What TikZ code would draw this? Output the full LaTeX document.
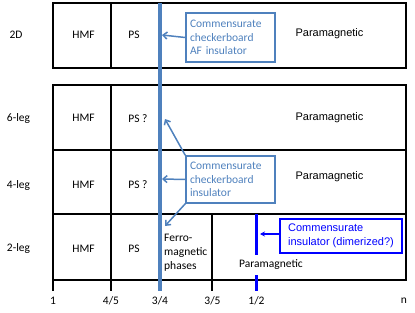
\documentclass[tikz,border=0pt]{standalone}
\usepackage{fontspec}
\setmainfont{Carlito}
\newfontfamily\arialf{Liberation Sans}
\usetikzlibrary{arrows.meta}
\definecolor{steel}{RGB}{79,129,189}
\definecolor{pureblue}{RGB}{0,0,255}
\tikzset{
  grid/.style={line width=1.8pt, black},
  lbl/.style={font=\fontsize{11.5}{13.5}\selectfont, inner sep=0pt},
  para/.style={font=\arialf\fontsize{11}{13.5}\selectfont, inner sep=0pt},
  bluebox/.style={draw=steel, line width=1.5pt, text=steel, align=left,
    font=\fontsize{11.5}{13.5}\selectfont, minimum width=89pt, text width=81pt, inner xsep=4pt},
  blueline/.style={steel, line width=4pt},
  bluearrow/.style={steel, line width=1.5pt, -{Straight Barb[length=4pt,width=7pt]}},
  dimbox/.style={draw=pureblue, line width=1.5pt, text=pureblue, align=left,
    font=\arialf\fontsize{11}{14}\selectfont, minimum width=122pt, minimum height=34pt, inner xsep=5pt},
  dimarrow/.style={pureblue, line width=1.5pt, -{Stealth[length=5pt,width=5pt]}},
}
\begin{document}
\begin{tikzpicture}[x=1pt,y=-1pt]
\useasboundingbox (0,0) rectangle (415,313);
% 2D block
\draw[grid] (53,3) rectangle (406,68);
\draw[grid] (111,3) -- (111,68);
% lower block
\draw[grid] (53,85) rectangle (406,280);
\draw[grid] (53,150) -- (406,150);
\draw[grid] (53,214) -- (406,214);
\draw[grid] (53,85) -- (53,291);
\draw[grid] (111,85) -- (111,291);
\draw[grid] (212,214) -- (212,291);
% blue lines
\draw[blueline] (160,3) -- (160,291);
\draw[pureblue, line width=3pt] (256,214) -- (256,255);
\draw[pureblue, line width=3pt] (256,275) -- (256,291);
% row labels
\node[lbl] (r2d) at (16,35) {2D};
\node[lbl] (r6) at (18.5,118) {6-leg};
\node[lbl] (r4) at (18.5,185) {4-leg};
\node[lbl] (r2) at (18.5,248) {2-leg};
% HMF / PS
\node[lbl] (h2d) at (83.5,35) {HMF};
\node[lbl] (h6) at (83.5,118) {HMF};
\node[lbl] (h4) at (83.5,185) {HMF};
\node[lbl] (h2) at (83.5,249) {HMF};
\node[lbl] (p2d) at (134,35) {PS};
\node[lbl] (p6) at (138,119) {PS ?};
\node[lbl] (p4) at (138,185) {PS ?};
\node[lbl] (p2) at (134,249) {PS};
% ferro
\node[lbl, align=left, anchor=west, font=\fontsize{11.5}{14}\selectfont] (ferro) at (164,253) {Ferro-\\magnetic\\phases};
% paramagnetic
\node[para] (pm2d) at (329.5,34) {Paramagnetic};
\node[para] (pm6) at (329.5,118) {Paramagnetic};
\node[para] (pm4) at (329.5,177) {Paramagnetic};
\node[lbl] (pm2) at (271,265) {Paramagnetic};
% axis
\node[lbl] (a1) at (53,301) {1};
\node[lbl] (a45) at (111,301) {4/5};
\node[lbl] (a34) at (160,301) {3/4};
\node[lbl] (a35) at (212.5,301) {3/5};
\node[lbl] (a12) at (256.5,301) {1/2};
\node[lbl] (an) at (404,301) {n};
% blue boxes
\node[bluebox, minimum height=49pt] (b2d) at (230.5,37.5) {Commensurate\\checkerboard\\AF insulator};
\node[bluebox, minimum height=47pt] (bleg) at (230.5,179.5) {Commensurate\\checkerboard\\insulator};
\node[dimbox] (bdim) at (341,236) {Commensurate\\insulator (dimerized?)};
% arrow targets
\coordinate (t2d) at (162,35);
\coordinate (t6) at (165,119);
\coordinate (t4) at (162,179);
\coordinate (t2) at (165,226);
\coordinate (t12) at (260,234);
\draw[bluearrow] (b2d.west) -- (t2d);
\draw[bluearrow] (bleg.north west) -- (t6);
\draw[bluearrow] (bleg.west) -- (t4);
\draw[bluearrow] (bleg.south west) -- (t2);
\draw[dimarrow] (bdim.west |- t12) -- (t12);
\end{tikzpicture}
\end{document}
